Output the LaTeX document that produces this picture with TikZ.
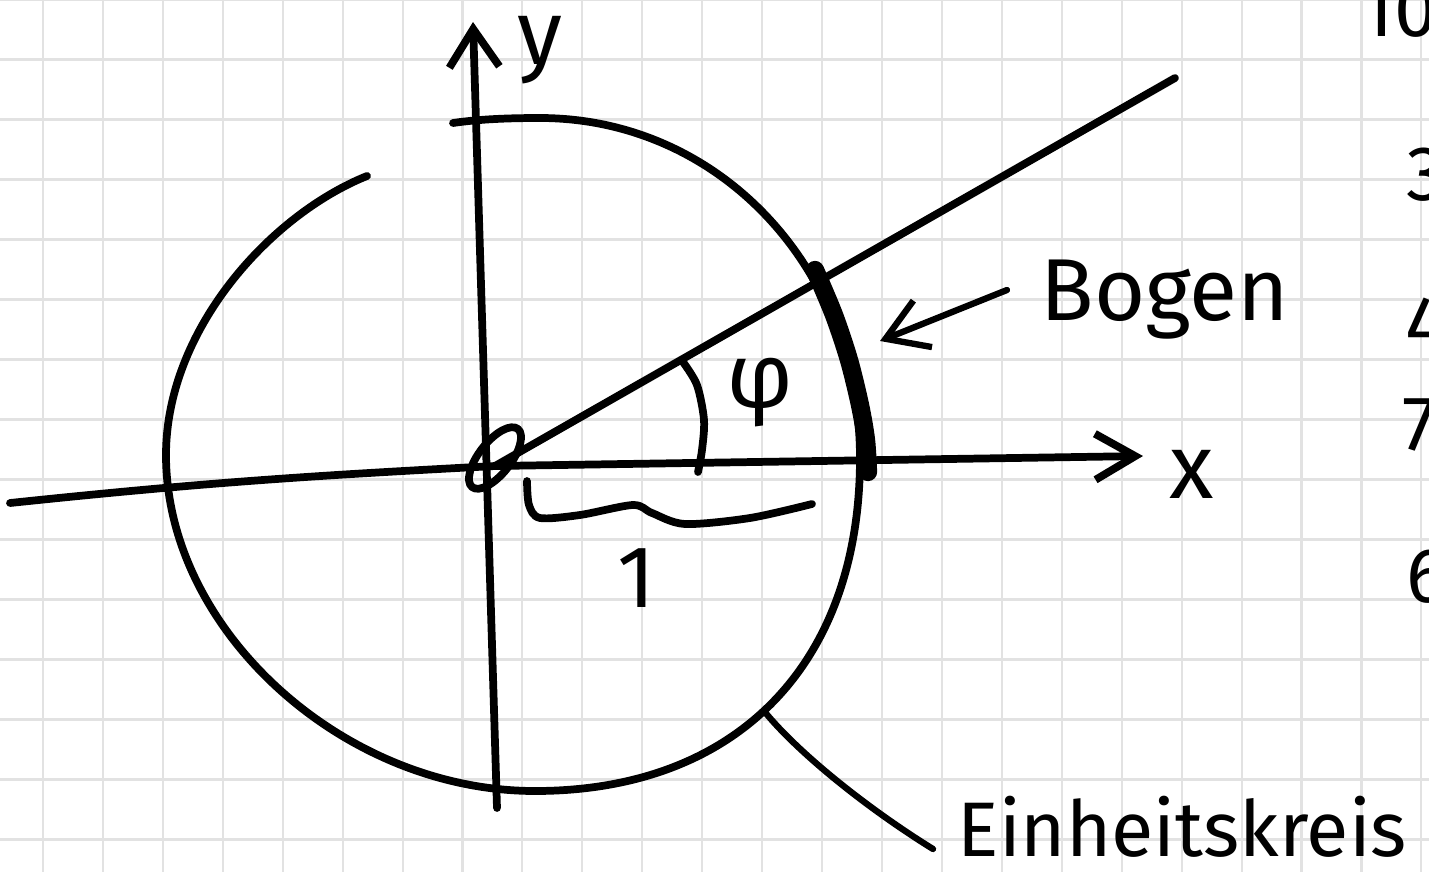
\documentclass[tikz,border=0pt]{standalone}
\usepackage{fontspec}
\setmainfont{Fira Sans}
\usepackage{tikz}
\usetikzlibrary{positioning,arrows.meta,calc}
\definecolor{gridgray}{RGB}{226,226,226}
\definecolor{ink}{RGB}{0,0,0}
\tikzset{
    gridline/.style={draw=gridgray, line width=0.6pt},
    pen/.style={draw=ink, line width=2.2pt, line cap=round, line join=round},
    thickpen/.style={draw=ink, line width=5.2pt, line cap=round, line join=round},
    thinpen/.style={draw=ink, line width=1.8pt, line cap=round},
    axisarrow/.style={-{Straight Barb[length=4mm, width=4.6mm]}},
    hand/.style={text=ink, inner sep=0pt, font=\fontsize{26}{30}\selectfont},
    bighand/.style={text=ink, inner sep=0pt, font=\fontsize{25}{30}\selectfont},
    notehand/.style={text=ink, inner sep=0pt, font=\fontsize{22}{26}\selectfont}
}

\begin{document}
\begin{tikzpicture}[x=0.01cm, y=-0.01cm]
\useasboundingbox (0,0) rectangle (1429,872);
\fill[white] (0,0) rectangle (1429,872);
\clip (0,0) rectangle (1429,872);
% squared paper
\foreach \gx in {0,...,23}
    \draw[gridline] ({43+59.93*\gx},0) -- ({43+59.93*\gx},872);
\foreach \gy in {0,...,14}
    \draw[gridline] (0,{60*\gy-0.5}) -- (1429,{60*\gy-0.5});

% key points
\coordinate (O) at (495,466);
\coordinate (xL) at (10,503);
\coordinate (xR) at (1143,456);
\coordinate (yB) at (497,808);
\coordinate (yT) at (473,22);
\coordinate (rayEnd) at (1175,78);
\coordinate (cStart) at (453,123);
\coordinate (cTop) at (540,118);
\coordinate (cRight) at (860,458);
\coordinate (cBottom) at (535,791);
\coordinate (cLeft) at (166,455);
\coordinate (cEnd) at (367,176);
\coordinate (bogenTail) at (1007,290);
\coordinate (bogenTip) at (880,341);
\coordinate (ekTouch) at (764,711);
\coordinate (ekEnd) at (933,849);

% axes
\draw[pen, axisarrow] (xL) to[out=6, in=183] (O) -- (xR);
\draw[pen, -{Straight Barb[length=3.8mm, width=5mm]}] (yB) -- (yT);

% unit circle, open at the top left
\draw[pen] (cStart) .. controls (480,119) and (510,118) .. (cTop)
    .. controls (719,118) and (860,268) .. (cRight)
    .. controls (860,664) and (737,791) .. (cBottom)
    .. controls (343,791) and (166,630) .. (cLeft)
    .. controls (166,330) and (270,215) .. (cEnd);

% ray and arc
\draw[pen] (O) -- (rayEnd);
\draw[thickpen] plot[smooth] coordinates {
    (815,270) (834,315) (849,360) (860,405) (866,440) (868,472)};
\draw[pen] plot[smooth] coordinates {
    (683,362) (697,385) (704,420) (702,450) (698,472)};
\draw[pen, rotate around={52:(495,458)}] (495,458) ellipse [x radius=37, y radius=16];

% radius brace
\draw[pen] plot[smooth, tension=0.5] coordinates {
    (527,481) (529,505) (540,518) (580,515) (633,505) (652,513)
    (685,524) (750,518) (812,504)};

% labels
\node[hand] (ylabel) at (540,50) {y};
\node[hand] (xlabel) at (1192,474) {x};
\node[hand] (philabel) at (760,393) {φ};
\node[bighand] (one) at (637,578) {1};
\node[bighand, anchor=base west] (bogen) at (1040,320) {Bogen};
\node[notehand, anchor=base west] (einheit) at (957,856) {Einheitskreis};

\draw[thinpen, -{Straight Barb[length=4mm, width=5mm]}] (bogenTail) -- (bogenTip);
\draw[thinpen] (ekTouch) .. controls (800,755) and (870,810) .. (ekEnd);

% notes cut off at the right edge
\node[notehand, anchor=base west] (note10) at (1360,36) {10};
\node[notehand, anchor=base west] (note3) at (1406,200) {3};
\node[notehand, anchor=base west] (note4) at (1405,350) {4};
\node[notehand, anchor=base west] (note7) at (1402,450) {7};
\node[notehand, anchor=base west] (note6) at (1406,602) {6};
\end{tikzpicture}
\end{document}
